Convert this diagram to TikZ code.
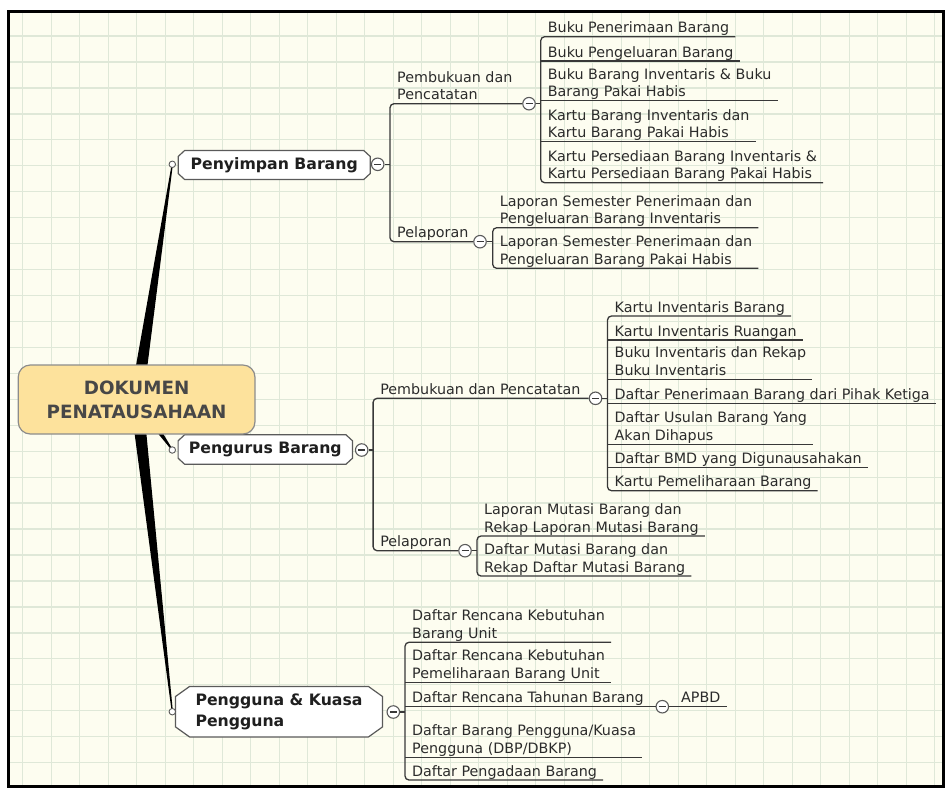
\documentclass[tikz,border=0pt]{standalone}
\usepackage{fontspec}
\setmainfont{DejaVu Sans}
\usetikzlibrary{calc}

\pgfdeclarelayer{gridlayer}
\pgfdeclarelayer{shapelayer}
\pgfsetlayers{gridlayer,shapelayer,main}

\definecolor{paper}{HTML}{FDFDF0}
\definecolor{gridc}{HTML}{DFE8D8}
\definecolor{ink}{HTML}{2B2B2B}
\definecolor{wire}{HTML}{383838}
\definecolor{rootfill}{HTML}{FDE29C}
\definecolor{rootedge}{HTML}{8C8C8C}
\definecolor{roottext}{HTML}{474747}
\definecolor{boxedge}{HTML}{5A5A5A}

% leaf font with a strut of 13.7pt above and 3.8pt below the baseline
\newcommand{\leaffont}{\fontsize{14.3}{17.5}\selectfont
  \setbox\strutbox\hbox{\vrule height 13.7pt depth 3.8pt width 0pt}}
\newcommand{\topicfont}{\bfseries\fontsize{15.7}{21}\selectfont}
\newcommand{\rootfont}{\bfseries\fontsize{18.3}{23.7}\selectfont}
% leaf text: 7pt gap after the bracket, 6pt of underline past the text
\newcommand{\leaftext}[1]{\begin{tabular}[b]{@{\hspace{7pt}}l@{\hspace{6pt}}}#1\end{tabular}}
% white octagonal outline behind a topic node
\newcommand{\chamferbox}[3]{%
  \begin{pgfonlayer}{shapelayer}
    \filldraw[fill=white, draw=boxedge, line width=1.2pt]
      ([xshift=#2]#1.north west) -- ([xshift=-#2]#1.north east)
      -- ([yshift=-#3]#1.north east) -- ([yshift=#3]#1.south east)
      -- ([xshift=-#2]#1.south east) -- ([xshift=#2]#1.south west)
      -- ([yshift=#3]#1.south west) -- ([yshift=-#3]#1.north west) -- cycle;
  \end{pgfonlayer}}
% tapered black branch from the root centre to a topic dot (#3 = half base width)
\newcommand{\taper}[3]{%
  \begin{pgfonlayer}{shapelayer}
    \fill[black] ($(#1)!#3!90:(#2)$) -- ($(#2)!0.6pt!-90:(#1)$)
      -- ($(#2)!0.6pt!90:(#1)$) -- ($(#1)!#3!-90:(#2)$) -- cycle;
  \end{pgfonlayer}}

\tikzset{
  leaf/.style={anchor=south west, inner sep=0pt, font=\leaffont, text=ink},
  conn/.style={draw=wire, line width=1.3pt},
  minus/.style={circle, draw=boxedge, fill=white, line width=1.1pt,
    minimum size=12.5pt, inner sep=0pt,
    path picture={\draw[line width=1.2pt, wire]
      ([xshift=-3.5pt]path picture bounding box.center) --
      ([xshift=3.5pt]path picture bounding box.center);}},
  dot/.style={circle, draw=boxedge, fill=white, line width=0.9pt,
    minimum size=6.5pt, inner sep=0pt},
  topic/.style={inner sep=0pt, font=\topicfont, text=black!88},
}

\begin{document}
\begin{tikzpicture}[x=1pt, y=-1pt]
\useasboundingbox (0,0) rectangle (947,798);

% paper and grid
\begin{pgfonlayer}{gridlayer}
  \fill[white] (0,0) rectangle (947,798);
  \fill[paper] (8.7,11) rectangle (943.3,786.7);
  \begin{scope}
    \clip (8.7,11) rectangle (943.3,786.7);
    \foreach \k in {0,...,32}
      \draw[gridc, line width=1.3pt] ({22.7+28.5*\k},11) -- ({22.7+28.5*\k},786.7);
    \foreach \k in {0,...,28}
      \draw[gridc, line width=1.3pt] (8.7,{36+25.95*\k}) -- (943.3,{36+25.95*\k});
  \end{scope}
\end{pgfonlayer}

% root
\node[draw=rootedge, fill=rootfill, rounded corners=12pt, line width=1.2pt,
      minimum width=236.7pt, minimum height=69pt, align=center,
      font=\rootfont, text=roottext] (root) at (136.6,399.5) {DOKUMEN\\PENATAUSAHAAN};

% topic dots and tapered branches
\node[dot] (d1) at (172.3,164.3) {};
\node[dot] (d2) at (172.3,450) {};
\node[dot] (d3) at (172.3,711.7) {};
\taper{root.center}{d1.center}{6.5pt}
\taper{root.center}{d2.center}{5pt}
\taper{root.center}{d3.center}{6.5pt}

% topics
\node[topic, minimum width=191.7pt, minimum height=28.6pt] (t1) at (274.2,165) {Penyimpan Barang};
\chamferbox{t1}{6.5pt}{6pt}
\node[topic, minimum width=174pt, minimum height=29pt] (t2) at (265.3,449.5) {Pengurus Barang};
\chamferbox{t2}{6.5pt}{6pt}
\node[topic, minimum width=206.6pt, minimum height=50pt, align=left] (t3) at (279,711.7) {Pengguna \& Kuasa\\Pengguna};
\chamferbox{t3}{14pt}{10pt}

\node[minus] (tA) at (377.7,164.3) {};
\node[minus] (tB) at (361.7,450) {};
\node[minus] (tC) at (393.3,712) {};

% ---------- Penyimpan Barang ----------
\node[leaf] (pA) at (390,103.7) {\leaftext{Pembukuan dan\\Pencatatan}};
\node[minus] (mA) at (529,103.7) {};
\node[leaf] (pB) at (390,241.7) {\leaftext{Pelaporan}};
\node[minus] (mB) at (480,241.7) {};
\draw[conn, rounded corners=4pt] (mA.west) -- (pA.south west) -- (pB.south west) -- (mB.west);
\draw[conn] (tA.east) -- (tA.east -| pA.south west);

\node[leaf] (a1) at (540.7,36.7) {\leaftext{Buku Penerimaan Barang}};
\node[leaf] (a2) at (540.7,61) {\leaftext{Buku Pengeluaran Barang}};
\node[leaf] (a3) at (540.7,100.7) {\leaftext{Buku Barang Inventaris \& Buku\\Barang Pakai Habis}};
\node[leaf] (a4) at (540.7,141.7) {\leaftext{Kartu Barang Inventaris dan\\Kartu Barang Pakai Habis}};
\node[leaf] (a5) at (540.7,182.7) {\leaftext{Kartu Persediaan Barang Inventaris \&\\Kartu Persediaan Barang Pakai Habis}};
\draw[conn, rounded corners=4pt] (a1.south east) -- (a1.south west) -- (a5.south west) -- (a5.south east);
\foreach \n in {a2,a3,a4} \draw[conn] (\n.south west) -- (\n.south east);
\draw[conn] (mA.east) -- (mA.east -| a1.south west);

\node[leaf] (b1) at (492.7,227.7) {\leaftext{Laporan Semester Penerimaan dan\\Pengeluaran Barang Inventaris}};
\node[leaf] (b2) at (492.7,268.3) {\leaftext{Laporan Semester Penerimaan dan\\Pengeluaran Barang Pakai Habis}};
\draw[conn, rounded corners=4pt] (b1.south east) -- (b1.south west) -- (b2.south west) -- (b2.south east);
\draw[conn] (mB.east) -- (mB.east -| b1.south west);

% ---------- Pengurus Barang ----------
\node[leaf] (qA) at (373.1,398.3) {\leaftext{Pembukuan dan Pencatatan}};
\node[minus] (mC) at (595.5,398.3) {};
\node[leaf] (qB) at (373.1,550.7) {\leaftext{Pelaporan}};
\node[minus] (mD) at (465,550.7) {};
\draw[conn, rounded corners=4pt] (mC.west) -- (qA.south west) -- (qB.south west) -- (mD.west);
\draw[conn] (tB.east) -- (tB.east -| qA.south west);

\node[leaf] (c1) at (607.5,316) {\leaftext{Kartu Inventaris Barang}};
\node[leaf] (c2) at (607.5,340) {\leaftext{Kartu Inventaris Ruangan}};
\node[leaf] (c3) at (607.5,379.3) {\leaftext{Buku Inventaris dan Rekap\\Buku Inventaris}};
\node[leaf] (c4) at (607.5,403.3) {\leaftext{Daftar Penerimaan Barang dari Pihak Ketiga}};
\node[leaf] (c5) at (607.5,444.3) {\leaftext{Daftar Usulan Barang Yang\\Akan Dihapus}};
\node[leaf] (c6) at (607.5,467.7) {\leaftext{Daftar BMD yang Digunausahakan}};
\node[leaf] (c7) at (607.5,490.7) {\leaftext{Kartu Pemeliharaan Barang}};
\draw[conn, rounded corners=4pt] (c1.south east) -- (c1.south west) -- (c7.south west) -- (c7.south east);
\foreach \n in {c2,c3,c4,c5,c6} \draw[conn] (\n.south west) -- (\n.south east);
\draw[conn] (mC.east) -- (mC.east -| c1.south west);

\node[leaf] (r1) at (477,536) {\leaftext{Laporan Mutasi Barang dan\\Rekap Laporan Mutasi Barang}};
\node[leaf] (r2) at (477,576) {\leaftext{Daftar Mutasi Barang dan\\Rekap Daftar Mutasi Barang}};
\draw[conn, rounded corners=4pt] (r1.south east) -- (r1.south west) -- (r2.south west) -- (r2.south east);
\draw[conn] (mD.east) -- (mD.east -| r1.south west);

% ---------- Pengguna & Kuasa Pengguna ----------
\node[leaf] (e1) at (405,642.3) {\leaftext{Daftar Rencana Kebutuhan\\Barang Unit}};
\node[leaf] (e2) at (405,682.3) {\leaftext{Daftar Rencana Kebutuhan\\Pemeliharaan Barang Unit}};
\node[leaf] (e3) at (405,706.7) {\leaftext{Daftar Rencana Tahunan Barang}};
\node[leaf] (e4) at (405,757.3) {\leaftext{Daftar Barang Pengguna/Kuasa\\Pengguna (DBP/DBKP)}};
\node[leaf] (e5) at (405,780) {\leaftext{Daftar Pengadaan Barang}};
\draw[conn, rounded corners=4pt] (e1.south east) -- (e1.south west) -- (e5.south west) -- (e5.south east);
\foreach \n in {e2,e4} \draw[conn] (\n.south west) -- (\n.south east);
\draw[conn] (tC.east) -- (tC.east -| e1.south west);

\node[minus] (mE) at (662.3,706.7) {};
\node[leaf] (apbd) at (674,706.7) {\leaftext{APBD}};
\draw[conn] (e3.south west) -- (mE.west);
\draw[conn] (mE.east) -- (apbd.south west) -- (apbd.south east);

% frame
\draw[black, line width=3pt] (8.7,11) rectangle (943.3,786.7);
\end{tikzpicture}
\end{document}
